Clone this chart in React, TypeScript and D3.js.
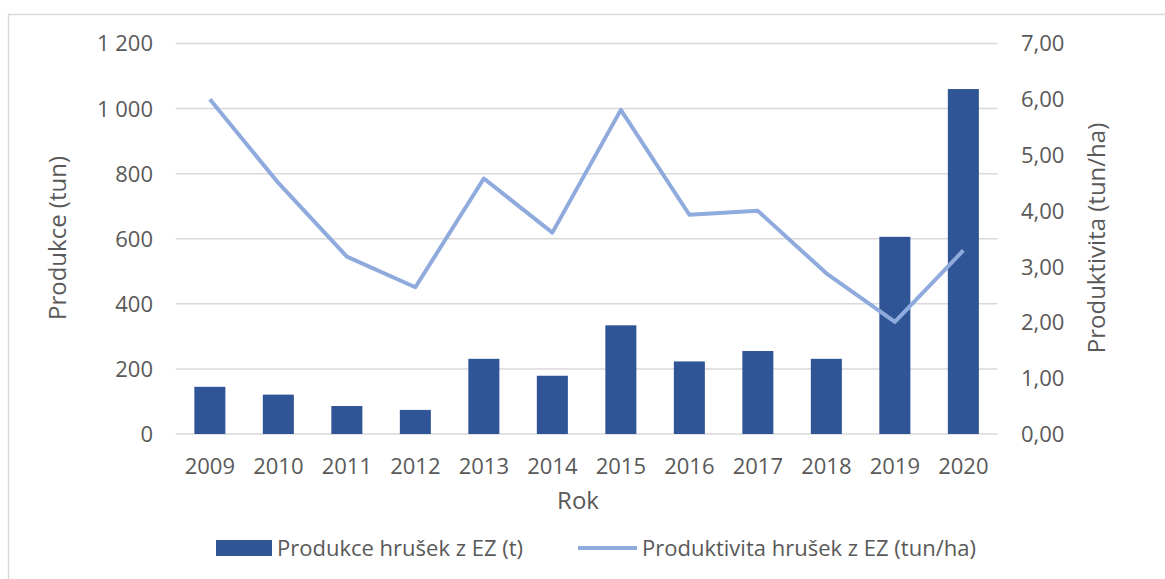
import React from "react";
import * as d3 from "d3";

const years = ["2009","2010","2011","2012","2013","2014","2015","2016","2017","2018","2019","2020"];
const production = [145, 121, 86, 74, 231, 179, 334, 223, 255, 231, 606, 1060];
const productivity = [6.0, 4.5, 3.18, 2.63, 4.58, 3.61, 5.81, 3.93, 4.0, 2.88, 2.01, 3.29];
const leftTicks = [0, 200, 400, 600, 800, 1000, 1200];
const rightTicks = [0, 1, 2, 3, 4, 5, 6, 7];

const W = 1165, H = 579;
const FONT = "'Open Sans', 'Noto Sans', sans-serif";
const TXT = "#595959";
const BAR = "#2f5597";
const LINE = "#8faadc";

export default function App() {
  const x = d3.scaleBand<string>().domain(years).range([175.6, 997.6]).paddingInner(0.547).paddingOuter(0.2735);
  const yL = d3.scaleLinear().domain([0, 1200]).range([434, 43.5]);
  const yR = d3.scaleLinear().domain([0, 7]).range([434, 43.5]);
  const fmtL = (v: number) => d3.format(",")(v).replace(/,/g, " ");
  const fmtR = (v: number) => v.toFixed(2).replace(".", ",");
  const line = d3.line<number>().x((_, i) => x(years[i])! + x.bandwidth() / 2).y((d) => yR(d));

  return (
    <svg width={W} height={H} style={{ position: "absolute", left: 0, top: 0, background: "#fff" }} fontFamily={FONT}>
      <rect x={0} y={0} width={W} height={H} fill="#fff" />
      <path d={`M8.5,${H + 5} V14.5 H${W + 5}`} fill="none" stroke="#d9d9d9" strokeWidth={1.5} />
      {leftTicks.map((t) => (
        <line key={t} x1={175.6} x2={997.6} y1={yL(t)} y2={yL(t)} stroke="#d9d9d9" strokeWidth={1.5} />
      ))}
      {leftTicks.map((t) => (
        <text key={t} x={153} y={yL(t)} dy="0.36em" textAnchor="end" fontSize={22} fill={TXT}>{fmtL(t)}</text>
      ))}
      {rightTicks.map((t) => (
        <text key={t} x={1021} y={yR(t)} dy="0.36em" textAnchor="start" fontSize={22} fill={TXT}>{fmtR(t)}</text>
      ))}
      {years.map((yr, i) => (
        <rect key={yr} x={x(yr)} y={yL(production[i])} width={x.bandwidth()} height={434 - yL(production[i])} fill={BAR} />
      ))}
      <path d={line(productivity) || ""} fill="none" stroke={LINE} strokeWidth={4} strokeLinejoin="round" />
      {years.map((yr) => (
        <text key={yr} x={x(yr)! + x.bandwidth() / 2} y={474} textAnchor="middle" fontSize={22} fill={TXT}>{yr}</text>
      ))}
      <text x={578} y={509} textAnchor="middle" fontSize={24} fill={TXT}>Rok</text>
      <text transform="translate(66,238) rotate(-90)" textAnchor="middle" fontSize={24} fill={TXT}>Produkce (tun)</text>
      <text transform="translate(1105,238) rotate(-90)" textAnchor="middle" fontSize={24} fill={TXT}>Produktivita (tun/ha)</text>
      <rect x={216} y={540} width={56} height={16} fill={BAR} />
      <text x={277} y={556} fontSize={22} fill={TXT}>Produkce hrušek z EZ (t)</text>
      <line x1={578} x2={637} y1={548} y2={548} stroke={LINE} strokeWidth={4} />
      <text x={642} y={556} fontSize={22} fill={TXT}>Produktivita hrušek z EZ (tun/ha)</text>
    </svg>
  );
}
